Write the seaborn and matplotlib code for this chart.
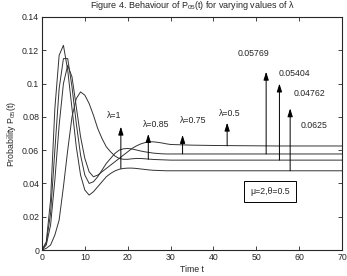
import numpy as np
import pandas as pd
import matplotlib
matplotlib.use('Agg')
import matplotlib.pyplot as plt
import seaborn as sns
from matplotlib.ticker import FuncFormatter

# time grid: every unit up to 30, then every 5
t = list(range(0, 31)) + [35, 40, 45, 50, 55, 60, 65, 70]

# P05(t), one curve per lambda
p_lam1 = [0, 0.005, 0.03, 0.085, 0.117, 0.123, 0.108, 0.085, 0.062, 0.045,
          0.036, 0.033, 0.035, 0.038, 0.041, 0.044, 0.046, 0.0475, 0.0485, 0.049,
          0.0492, 0.0492, 0.049, 0.0487, 0.0484, 0.0481, 0.0479, 0.0478, 0.0477, 0.0476,
          0.0476, 0.0476, 0.0476, 0.0476, 0.0476, 0.0476, 0.0476, 0.0476, 0.0476]
p_lam075 = [0, 0.004, 0.022, 0.06, 0.097, 0.115, 0.115, 0.098, 0.076, 0.057,
            0.045, 0.040, 0.041, 0.044, 0.048, 0.052, 0.055, 0.058, 0.06, 0.0608,
            0.061, 0.0607, 0.0601, 0.0595, 0.059, 0.0586, 0.0582, 0.058, 0.0578, 0.0577,
            0.0577, 0.0577, 0.0577, 0.0577, 0.0577, 0.0577, 0.0577, 0.0577, 0.0577]
p_lam05 = [0, 0.003, 0.015, 0.042, 0.075, 0.1, 0.111, 0.104, 0.086, 0.068,
           0.055, 0.047, 0.044, 0.045, 0.047, 0.049, 0.051, 0.053, 0.055, 0.057,
           0.059, 0.061, 0.0625, 0.0637, 0.0645, 0.065, 0.065, 0.0647, 0.0643, 0.0638,
           0.0634, 0.063, 0.0628, 0.0627, 0.0626, 0.0625, 0.0625, 0.0625, 0.0625]
p_lam085 = [0, 0.001, 0.003, 0.009, 0.018, 0.038, 0.06, 0.08, 0.091, 0.095,
            0.093, 0.088, 0.081, 0.073, 0.067, 0.062, 0.059, 0.0565, 0.055, 0.0545,
            0.0545, 0.0548, 0.055, 0.055, 0.0548, 0.0546, 0.0544, 0.0543, 0.0542, 0.0541,
            0.054, 0.054, 0.054, 0.054, 0.054, 0.054, 0.054, 0.054, 0.054]

# arrows: x position, start value, tip value, label
arrow_t = [18.4, 24.8, 32.8, 43.2, 52.3, 55.4, 57.9]
arrow_base = [0.049, 0.0545, 0.0578, 0.0626, 0.0577, 0.054, 0.0476]
arrow_tip = [0.0741, 0.0697, 0.0691, 0.0765, 0.1071, 0.100, 0.0851]

labels = ['λ=1', 'λ=0.85', 'λ=0.75', 'λ=0.5', '0.05769', '0.05404', '0.04762', '0.0625']
label_t = [15.2, 23.6, 32.2, 41.4, 45.6, 55.3, 58.6, 60.4]
label_p = [0.081, 0.0755, 0.078, 0.0821, 0.1178, 0.1062, 0.0942, 0.0747]

df = pd.DataFrame({
    't': t * 4,
    'p': p_lam1 + p_lam085 + p_lam075 + p_lam05,
    'lam': ['1'] * len(t) + ['0.85'] * len(t) + ['0.75'] * len(t) + ['0.5'] * len(t),
})

sns.set_style('ticks')
plt.rcParams['font.family'] = ['Liberation Sans', 'DejaVu Sans']
plt.rcParams['mathtext.default'] = 'regular'

fig = plt.figure(figsize=(3.47, 2.76), dpi=100)
ax = fig.add_axes([42 / 347, 1 - 250 / 276, 300 / 347, 233 / 276])

sns.lineplot(data=df, x='t', y='p', units='lam', estimator=None,
             color='#333333', linewidth=0.7, ax=ax)

for x, y0, y1 in zip(arrow_t, arrow_base, arrow_tip):
    ax.annotate('', xy=(x, y1), xytext=(x, y0),
                arrowprops=dict(arrowstyle='-|>,head_length=0.7,head_width=0.22',
                                color='black', lw=0.7,
                                mutation_scale=7, shrinkA=0, shrinkB=0))

for s, x, y in zip(labels, label_t, label_p):
    ax.text(x, y, s, fontsize=6.3, ha='left', va='center')

ax.text(53.2, 0.035, 'μ=2,θ=0.5', fontsize=6.3, ha='center', va='center',
        bbox=dict(boxstyle='square,pad=0.7', fc='white', ec='black', lw=0.7))

ax.set_xlim(0, 70)
ax.set_ylim(0, 0.14)
ax.set_xticks(range(0, 71, 10))
ax.set_yticks(np.arange(0, 0.141, 0.02))
ax.yaxis.set_major_formatter(FuncFormatter(lambda v, pos: '%g' % round(v, 3)))
ax.tick_params(direction='in', top=True, right=True, length=3, width=0.6,
               labelsize=6.3, pad=2)
for sp in ax.spines.values():
    sp.set_linewidth(0.8)

ax.set_xlabel('Time t', fontsize=6.3, labelpad=2)
ax.set_ylabel('Probability P$_{05}$(t)', fontsize=6.3, labelpad=3)
fig.text(192 / 347, 1 - 5 / 276, 'Figure 4. Behaviour of P$_{05}$(t) for varying values of λ',
         fontsize=6.5, ha='center', va='center')

fig.savefig('out.png', dpi=100)
